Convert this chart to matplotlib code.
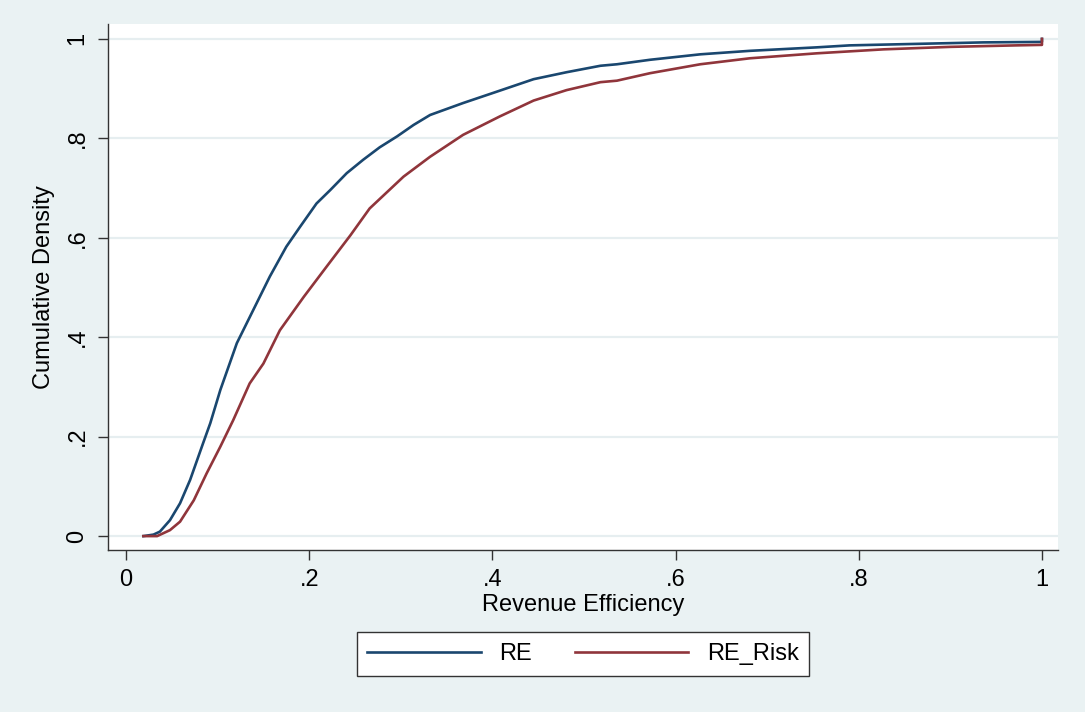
import numpy as np
import matplotlib
matplotlib.use("Agg")
import matplotlib.pyplot as plt

re_x = [0.019, 0.03, 0.037, 0.048, 0.059, 0.070, 0.084, 0.092, 0.103, 0.121,
        0.139, 0.157, 0.175, 0.19, 0.208, 0.223, 0.241, 0.259, 0.277, 0.296,
        0.314, 0.332, 0.368, 0.405, 0.445, 0.481, 0.518, 0.536, 0.572, 0.627,
        0.681, 0.754, 0.79, 0.863, 0.936, 1.0, 1.0]
re_y = [0.0, 0.003, 0.009, 0.032, 0.066, 0.113, 0.186, 0.227, 0.294, 0.388,
        0.455, 0.522, 0.582, 0.622, 0.669, 0.696, 0.73, 0.757, 0.782, 0.804,
        0.827, 0.847, 0.871, 0.894, 0.919, 0.933, 0.946, 0.949, 0.958, 0.969,
        0.976, 0.983, 0.987, 0.99, 0.993, 0.994, 1.0]

risk_x = [0.019, 0.034, 0.048, 0.059, 0.074, 0.088, 0.103, 0.117, 0.135, 0.15,
          0.168, 0.194, 0.219, 0.245, 0.266, 0.303, 0.332, 0.368, 0.408, 0.445,
          0.481, 0.518, 0.536, 0.572, 0.627, 0.681, 0.754, 0.827, 0.9, 0.972,
          1.0, 1.0]
risk_y = [0.0, 0.0, 0.012, 0.029, 0.072, 0.126, 0.18, 0.233, 0.307, 0.347,
          0.414, 0.481, 0.542, 0.605, 0.659, 0.723, 0.763, 0.807, 0.844, 0.876,
          0.897, 0.913, 0.916, 0.931, 0.949, 0.961, 0.971, 0.979, 0.984, 0.987,
          0.988, 1.0]

xticks = [0, 0.2, 0.4, 0.6, 0.8, 1]
xlabels = ["0", ".2", ".4", ".6", ".8", "1"]
yticks = [0, 0.2, 0.4, 0.6, 0.8, 1]
ylabels = ["0", ".2", ".4", ".6", ".8", "1"]

plt.rcParams['font.family'] = ['Liberation Sans', 'DejaVu Sans']

bg = "#eaf2f3"
fig = plt.figure(figsize=(10.85, 7.12), dpi=100, facecolor=bg)
ax = fig.add_axes([0.0995, 0.2275, 0.8756, 0.7388])
ax.set_facecolor("white")

ax.plot(re_x, re_y, color="#1a476f", lw=1.9, label="RE")
ax.plot(risk_x, risk_y, color="#90353b", lw=1.9, label="RE_Risk")

ax.set_xlim(-0.0197, 1.0175)
ax.set_ylim(-0.028, 1.030)
ax.set_xticks(xticks)
ax.set_xticklabels(xlabels)
ax.set_yticks(yticks)
ax.set_yticklabels(ylabels, rotation=90, va="center")
ax.grid(axis="y", color="#e6eef0", lw=1.6)
ax.set_axisbelow(True)

for s in ["top", "right"]:
    ax.spines[s].set_visible(False)
for s in ["left", "bottom"]:
    ax.spines[s].set_color("#333333")
    ax.spines[s].set_linewidth(1.0)
ax.tick_params(length=7, width=1.0, color="#333333", labelsize=17, pad=7)

ax.set_xlabel("Revenue Efficiency", fontsize=17, labelpad=2)
ax.set_ylabel("Cumulative Density", fontsize=17, labelpad=8)

leg = ax.legend(loc="upper center", bbox_to_anchor=(0.5, -0.134), ncol=2,
                fontsize=17, frameon=True, fancybox=False, handlelength=4.8,
                columnspacing=1.8, borderpad=0.45, handletextpad=0.8,
                framealpha=1)
leg.get_frame().set_edgecolor("#333333")
leg.get_frame().set_linewidth(1.0)

fig.savefig("out.png", dpi=100, facecolor=bg)
